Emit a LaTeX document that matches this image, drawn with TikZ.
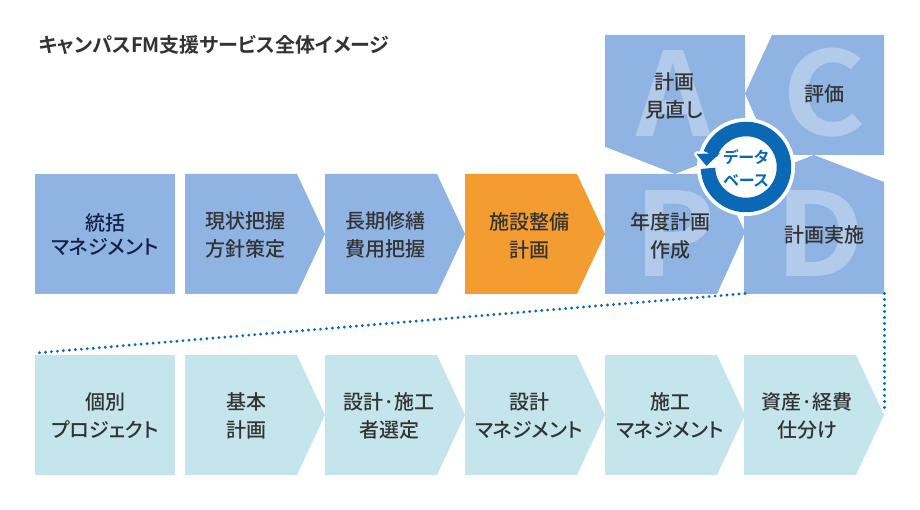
\documentclass[tikz,border=0pt]{standalone}
\usepackage{fontspec}
\setmainfont{Noto Sans CJK JP Medium}[RawFeature=+palt]
\newfontfamily\jpb{Noto Sans CJK JP Bold}[RawFeature=+palt]
\newfontfamily\latb{Noto Sans CJK JP Bold}
\definecolor{bluebox}{HTML}{8FB4E3}
\definecolor{orangebox}{HTML}{F39C30}
\definecolor{lightbox}{HTML}{C5E5EC}
\definecolor{paleletter}{HTML}{B3CBEA}
\definecolor{darktext}{HTML}{333333}
\definecolor{navytext}{HTML}{14204A}
\definecolor{ringblue}{HTML}{0A68B4}
\tikzset{
  x=1pt,y=-1pt,
  lbl/.style={font=\fontsize{20}{28}\selectfont,text=darktext,align=center,inner sep=0pt},
  bigletter/.style={font=\fontsize{116}{116}\selectfont\latb,text=paleletter,inner sep=0pt,anchor=base},
  dots/.style={draw=ringblue,line width=3.2pt,line cap=round,dash pattern=on 0pt off 6pt},
}
\begin{document}
\begin{tikzpicture}
\useasboundingbox (0,0) rectangle (920,510);
% top row
\fill[bluebox] (35,174) rectangle (175,294);
\fill[bluebox] (185,174)--(297,174)--(325,234)--(297,294)--(185,294)--cycle;
\fill[bluebox] (325,174)--(437,174)--(465,234)--(437,294)--(325,294)--cycle;
\fill[orangebox] (465,174)--(577,174)--(605,234)--(577,294)--(465,294)--cycle;
% PDCA
\fill[bluebox] (605,35)--(745,35)--(745,146.7)--(675,174)--(605,146.7)--cycle;
\fill[bluebox] (884,35)--(772,35)--(745,93.5)--(772,155)--(884,155)--cycle;
\fill[bluebox] (744,294)--(884,294)--(884,182)--(814,155)--(744,182)--cycle;
\fill[bluebox] (605,174)--(717,174)--(745,232)--(717,294)--(605,294)--cycle;
\node[bigletter] (la) at (674,137) {A};
\node[bigletter,transform shape,xscale=1.1] (lc) at (824,136) {C};
\node[bigletter,transform shape,xscale=1.05] (lp) at (675,277) {P};
\node[bigletter,transform shape,xscale=1.08] (ld) at (820,277) {D};
% bottom row
\fill[lightbox] (35,355) rectangle (175,475);
\foreach \x in {185,325,465,605,744}{
  \fill[lightbox] (\x,355)--(\x+112,355)--(\x+140,415)--(\x+112,475)--(\x,475)--cycle;
}
% labels
\node[lbl,text=navytext,font=\fontsize{20}{24}\selectfont] (t1) at (105,234.5) {統括\\マネジメント};
\node[lbl] (t2) at (245,235) {現状把握\\方針策定};
\node[lbl] (t3) at (385,235) {長期修繕\\費用把握};
\node[lbl] (t4) at (529,236) {施設整備\\計画};
\node[lbl] (tp) at (670,236) {年度計画\\作成};
\node[lbl] (ta) at (674,96) {計画\\見直し};
\node[lbl] (tc) at (824,94) {評価};
\node[lbl] (td) at (824,235) {計画実施};
\node[lbl] (b1) at (105,416) {個別\\プロジェクト};
\node[lbl] (b2) at (246,416) {基本\\計画};
\node[lbl] (b3) at (389,416) {設計·施工\\者選定};
\node[lbl] (b4) at (529,416) {設計\\マネジメント};
\node[lbl] (b5) at (670,416) {施工\\マネジメント};
\node[lbl] (b6) at (807,416) {資産·経費\\仕分け};
\node[anchor=west,inner sep=0pt,font=\fontsize{20}{24}\selectfont\jpb,text=darktext] (title) at (38.5,45) {キャンパスFM支援サービス全体イメージ};
% dotted connectors
\coordinate (d1) at (745,293.5);
\coordinate (d2) at (36,353);
\coordinate (d3) at (884.5,293.5);
\coordinate (d4) at (884.5,410);
\draw[dots] (d1)--(d2);
\draw[dots] (d3)--(d4);
% database circle
\coordinate (cc) at (746,167);
\fill[white] (cc) circle[radius=49];
\fill[white,draw=white,line width=5pt,line join=round] (696.5,154)--(720,153)--(706.5,166)--cycle;
\draw[ringblue,line width=14.5pt] (cc) ++(178:38) arc[start angle=178,end angle=-160,radius=38];
\fill[ringblue] (696.5,154)--(720,153)--(706.5,166)--cycle;
\node[inner sep=0pt,align=center,text=ringblue,font=\fontsize{16}{23}\selectfont\jpb] (db) at (746,168) {データ\\ベース};
\end{tikzpicture}
\end{document}
